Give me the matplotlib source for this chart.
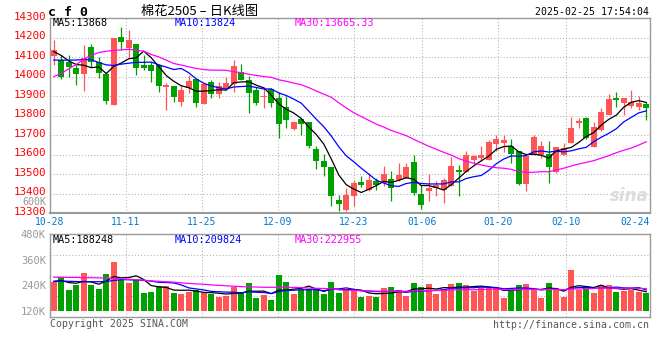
import numpy as np
import pandas as pd
import matplotlib
matplotlib.use('Agg')
import matplotlib.pyplot as plt
import matplotlib.transforms as mtransforms

# Daily K-line data for 棉花2505, 2024-10-28 .. 2025-02-25 (80 trading days)
opens = [14106, 14084, 14076, 14045, 14013, 14152, 14076, 14011, 13855, 14203,
         14144, 14166, 14059, 14059, 14059, 13948, 13953, 13868, 13940, 13987,
         13860, 13970, 13912, 13943, 13962, 14021, 13985, 13931, 13894, 13936,
         13892, 13844, 13732, 13783, 13765, 13628, 13569, 13538, 13370, 13319,
         13390, 13458, 13421, 13467, 13455, 13477, 13469, 13481, 13561, 13401,
         13413, 13430, 13418, 13441, 13523, 13509, 13574, 13583, 13571, 13656,
         13662, 13646, 13617, 13452, 13596, 13596, 13603, 13510, 13600, 13659,
         13761, 13787, 13642, 13724, 13804, 13889, 13863, 13850, 13843, 13862]
highs = [14186, 14113, 14110, 14067, 14161, 14169, 14101, 14025, 14198, 14254,
         14237, 14166, 14110, 14076, 14067, 13965, 13953, 13957, 14008, 13987,
         13974, 13982, 13974, 13999, 14087, 14067, 14004, 13948, 13948, 13943,
         13919, 13900, 13768, 13787, 13765, 13645, 13603, 13538, 13396, 13430,
         13470, 13492, 13506, 13481, 13543, 13515, 13557, 13557, 13600, 13447,
         13501, 13464, 13481, 13586, 13549, 13620, 13600, 13646, 13676, 13702,
         13702, 13681, 13617, 13600, 13702, 13668, 13668, 13642, 13659, 13795,
         13787, 13795, 13770, 13841, 13911, 13919, 13889, 13931, 13900, 13870]
lows = [14058, 13987, 13999, 13957, 13926, 14050, 13991, 13858, 13855, 14135,
        14093, 14008, 14033, 13974, 13923, 13829, 13872, 13851, 13914, 13846,
        13858, 13889, 13889, 13940, 13919, 13980, 13815, 13855, 13841, 13846,
        13688, 13736, 13727, 13702, 13634, 13528, 13489, 13336, 13311, 13311,
        13336, 13433, 13413, 13421, 13438, 13362, 13464, 13481, 13396, 13324,
        13365, 13387, 13353, 13441, 13387, 13509, 13552, 13566, 13571, 13617,
        13613, 13560, 13447, 13413, 13596, 13583, 13455, 13506, 13596, 13659,
        13739, 13681, 13639, 13720, 13804, 13846, 13804, 13841, 13829, 13778]
closes = [14138, 13999, 14047, 14013, 14093, 14076, 14020, 13875, 14198, 14178,
          14186, 14045, 14045, 14028, 13953, 13957, 13897, 13931, 13977, 13863,
          13960, 13911, 13952, 13967, 14053, 13980, 13917, 13863, 13900, 13863,
          13759, 13778, 13768, 13758, 13647, 13566, 13535, 13387, 13348, 13396,
          13455, 13447, 13469, 13443, 13503, 13430, 13498, 13537, 13404, 13341,
          13430, 13447, 13472, 13543, 13509, 13600, 13591, 13600, 13663, 13681,
          13673, 13606, 13452, 13591, 13691, 13645, 13535, 13637, 13634, 13736,
          13773, 13685, 13741, 13821, 13885, 13880, 13889, 13868, 13863, 13838]
# volume in thousands of lots
volumes = [257, 276, 218, 242, 296, 242, 223, 291, 349, 265,
           249, 265, 203, 207, 237, 234, 203, 198, 210, 215,
           203, 198, 184, 190, 231, 207, 249, 179, 195, 171,
           287, 254, 198, 215, 223, 218, 198, 254, 204, 220,
           220, 185, 188, 185, 225, 229, 217, 188, 249, 229,
           245, 198, 220, 245, 249, 240, 213, 229, 227, 225,
           181, 217, 240, 245, 217, 181, 249, 227, 184, 310,
           217, 229, 204, 240, 240, 207, 213, 217, 207, 201]

# moving-average values at the left edge (need data before 10-28)
ma5_head = [14128, 14108, 14080, 14062]
ma10_head = [14085, 14084, 14084, 14085, 14087, 14086, 14072, 14060, 14057]
ma30_head = [14000, 14016, 14040, 14062, 14088, 14110, 14123, 14130, 14134, 14137,
             14140, 14135, 14130, 14113, 14101, 14084, 14067, 14059, 14050, 14042,
             14036, 14033, 14033, 14032, 14025, 14020, 14012, 14006, 14000]
vma5_head = [257, 262, 252, 249]
vma10_head = [258, 259, 258, 257, 256, 256, 256, 257, 262]
vma30_head = [277, 277, 276, 276, 275, 275, 274, 273, 272, 270,
              267, 265, 263, 260, 258, 256, 254, 251, 248, 246,
              244, 241, 239, 237, 235, 233, 232, 231, 230]

date_labels = ['10-28', '11-11', '11-25', '12-09', '12-23', '01-06', '01-20', '02-10', '02-24']
date_index = [0, 10, 20, 30, 40, 49, 59, 68, 78]
price_ticks = [13300, 13400, 13500, 13600, 13700, 13800, 13900, 14000, 14100, 14200, 14300]
vol_ticks = [120, 240, 360, 480]

RED = '#ff5555'
GREEN = '#00a000'
GRID = '#b0b0b0'
BORDER = '#999999'
MONO = 'DejaVu Sans Mono'


def moving_avg(values, window, head):
    ma = pd.Series(values, dtype=float).rolling(window).mean()
    ma.iloc[:len(head)] = head
    return ma.values


n = len(closes)
x = np.arange(n)
o = np.array(opens)
c = np.array(closes)
up = c >= o
colors = np.where(up, RED, GREEN)

ma5 = moving_avg(closes, 5, ma5_head)
ma10 = moving_avg(closes, 10, ma10_head)
ma30 = moving_avg(closes, 30, ma30_head)
vol = np.array(volumes) * 1000.0
vma5 = moving_avg(vol, 5, np.array(vma5_head) * 1000.0)
vma10 = moving_avg(vol, 10, np.array(vma10_head) * 1000.0)
vma30 = moving_avg(vol, 30, np.array(vma30_head) * 1000.0)

# gridlines follow the chart's own spacing (width / (n - 1))
grid_x = [i * n / (n - 1) - 0.5 for i in date_index]

W, H = 660, 360
fig = plt.figure(figsize=(6.6, 3.6), dpi=100)
ax = fig.add_axes([50 / W, 1 - 213.3 / H, 600 / W, 195.3 / H])
axv = fig.add_axes([50 / W, 1 - 317.3 / H, 600 / W, 83.3 / H])

# ---- price panel
ax.set_xlim(-0.5, n - 0.5)
ax.set_ylim(13300, 14300)
for p in price_ticks[1:-1]:
    ax.axhline(p, color=GRID, lw=0.75, ls=(0, (1, 2)), zorder=0)
for gx in grid_x[1:-1]:
    ax.axvline(gx, color=GRID, lw=0.75, ls=(0, (1, 2)), zorder=0)

ax.vlines(x, lows, highs, colors=colors, lw=0.9, zorder=2)
body = np.maximum(np.abs(c - o), 5)
ax.bar(x, body, bottom=np.minimum(o, c), width=0.8, color=colors, zorder=3, linewidth=0)

ax.plot(x, ma5, color='black', lw=0.9, zorder=4)
ax.plot(x, ma10, color='#0000ff', lw=0.9, zorder=4)
ax.plot(x, ma30, color='#ff00ff', lw=0.9, zorder=4)

ax.set_yticks(price_ticks)
ax.set_yticklabels([str(p) for p in price_ticks], color='#ff0000', fontsize=7.8, family=MONO)
ax.set_xticks([])
ax.tick_params(axis='y', length=0, pad=3)
# price labels sit a little above their gridlines
lift = mtransforms.ScaledTranslation(0, 2.5 / 100, fig.dpi_scale_trans)
for lab in ax.get_yticklabels():
    lab.set_transform(lab.get_transform() + lift)
for s in ax.spines.values():
    s.set_color(BORDER)
    s.set_linewidth(1)
ax.spines['bottom'].set_linewidth(1.5)

trans = ax.get_xaxis_transform()
for lab, gx in zip(date_labels[:-1], grid_x[:-1]):
    ax.text(gx, -0.045, lab, transform=trans, ha='center', va='center',
            color='#0078d0', fontsize=7, family=MONO, clip_on=False)
ax.text(n - 0.5, -0.045, date_labels[-1], transform=trans, ha='right', va='center',
        color='#0078d0', fontsize=7, family=MONO, clip_on=False)

ax.text(0.005, 0.975, 'MA5:13868', transform=ax.transAxes, ha='left', va='center',
        color='black', fontsize=7.3, family=MONO)
ax.text(0.208, 0.975, 'MA10:13824', transform=ax.transAxes, ha='left', va='center',
        color='#0000ff', fontsize=7.3, family=MONO)
ax.text(0.408, 0.975, 'MA30:13665.33', transform=ax.transAxes, ha='left', va='center',
        color='#ff00ff', fontsize=7.3, family=MONO)
ax.text(0.998, 0.09, 'sina', transform=ax.transAxes, ha='right', va='center',
        color='#dcdcdc', fontsize=12, style='italic', weight='bold')

# ---- volume panel
axv.set_xlim(-0.5, n - 0.5)
axv.set_ylim(89000, 480000)
lo, hi = axv.get_ylim()
for f in (0.25, 0.5, 0.75):
    axv.axhline(lo + f * (hi - lo), color=GRID, lw=0.75, ls=(0, (1, 2)), zorder=0)
for gx in grid_x[1:-1]:
    axv.axvline(gx, color=GRID, lw=0.75, ls=(0, (1, 2)), zorder=0)

axv.bar(x, vol - 120000, bottom=120000, width=0.8, color=colors, linewidth=0, zorder=2)
axv.plot(x, vma5, color='black', lw=0.9, zorder=3)
axv.plot(x, vma10, color='#0000ff', lw=0.9, zorder=3)
axv.plot(x, vma30, color='#ff00ff', lw=0.9, zorder=3)

axv.set_yticks([v * 1000 for v in vol_ticks])
axv.set_yticklabels(['%dK' % v for v in vol_ticks], color='#999999', fontsize=7.5, family=MONO)
axv.set_xticks([])
axv.tick_params(axis='y', length=0, pad=3)
for s in axv.spines.values():
    s.set_color(BORDER)
    s.set_linewidth(1)

axv.text(0.005, 0.93, 'MA5:188248', transform=axv.transAxes, ha='left', va='center',
         color='black', fontsize=7.3, family=MONO)
axv.text(0.208, 0.93, 'MA10:209824', transform=axv.transAxes, ha='left', va='center',
         color='#0000ff', fontsize=7.3, family=MONO)
axv.text(0.408, 0.93, 'MA30:222955', transform=axv.transAxes, ha='left', va='center',
         color='#ff00ff', fontsize=7.3, family=MONO)

# ---- header / footer text
fig.text(48 / W, 1 - 12 / H, 'c f 0', ha='left', va='center', fontsize=9.5,
         family=MONO, weight='bold', color='black')
fig.text(200 / W, 1 - 11 / H, '棉花2505 – 日K线图', ha='center', va='center', fontsize=9.5,
         family=['Noto Sans CJK SC', 'DejaVu Sans'], color='black')
fig.text(649 / W, 1 - 12 / H, '2025-02-25 17:54:04', ha='right', va='center',
         fontsize=7.1, family=MONO, color='black')
fig.text(46 / W, 1 - 202 / H, '600K', ha='right', va='center', fontsize=7.2,
         family=MONO, color='#999999')
fig.text(50 / W, 1 - 324 / H, 'Copyright 2025 SINA.COM', ha='left', va='center',
         fontsize=7.1, family=MONO, color='#555555')
fig.text(649 / W, 1 - 325 / H, 'http://finance.sina.com.cn', ha='right', va='center',
         fontsize=7.1, family=MONO, color='#555555')

fig.savefig('out.png', dpi=100, facecolor='white')
